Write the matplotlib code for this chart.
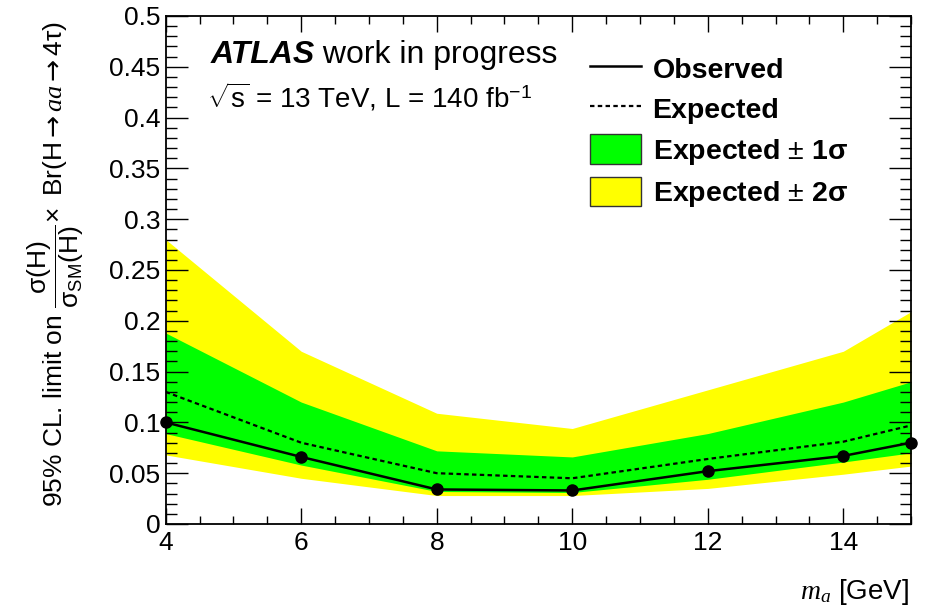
import numpy as np
import matplotlib
matplotlib.use("Agg")
import matplotlib.pyplot as plt
from matplotlib.lines import Line2D
from matplotlib.patches import Patch
from matplotlib.ticker import MultipleLocator, FuncFormatter

plt.rcParams['font.family'] = ['Liberation Sans', 'DejaVu Sans']
plt.rcParams['mathtext.fontset'] = 'custom'
plt.rcParams['mathtext.rm'] = 'Liberation Sans'
plt.rcParams['mathtext.it'] = 'Liberation Serif:italic'
plt.rcParams['mathtext.bf'] = 'Liberation Sans:bold'
plt.rcParams['mathtext.sf'] = 'DejaVu Sans'

# pseudoscalar mass points [GeV]
mass = [4, 6, 8, 10, 12, 14, 15]

# 95% CL upper limits
observed = [0.100, 0.066, 0.034, 0.033, 0.052, 0.067, 0.080]
expected = [0.130, 0.080, 0.050, 0.045, 0.064, 0.081, 0.097]
band1_up = [0.188, 0.120, 0.072, 0.066, 0.089, 0.120, 0.140]
band1_dn = [0.089, 0.058, 0.032, 0.031, 0.044, 0.061, 0.070]
band2_up = [0.280, 0.170, 0.109, 0.094, 0.132, 0.170, 0.209]
band2_dn = [0.068, 0.045, 0.028, 0.028, 0.035, 0.049, 0.057]

green = '#00ff00'
yellow = '#ffff00'

fig = plt.figure(figsize=(9.3, 6.12), dpi=100)
ax = fig.add_axes([0.1782, 0.1438, 0.8014, 0.8301])

ax.fill_between(mass, band2_dn, band2_up, color=yellow, lw=0)
ax.fill_between(mass, band1_dn, band1_up, color=green, lw=0)
ax.plot(mass, expected, color='black', lw=1.6, linestyle=(0, (2, 1.5)))
ax.plot(mass, observed, color='black', lw=1.8, marker='o', markersize=8, clip_on=False, zorder=5)

ax.set_xlim(4, 15)
ax.set_ylim(0, 0.5)

ax.xaxis.set_major_locator(MultipleLocator(2))
ax.xaxis.set_minor_locator(MultipleLocator(0.5))
ax.yaxis.set_major_locator(MultipleLocator(0.05))
ax.yaxis.set_minor_locator(MultipleLocator(0.01))
ax.yaxis.set_major_formatter(FuncFormatter(lambda v, p: '%g' % round(v, 3)))
ax.xaxis.set_major_formatter(FuncFormatter(lambda v, p: '%g' % v))

ax.tick_params(axis='both', which='both', direction='in', top=True, right=True,
               width=1.0, labelsize=19, colors='black')
ax.tick_params(axis='y', which='major', length=16, pad=4)
ax.tick_params(axis='y', which='minor', length=8)
ax.tick_params(axis='x', which='major', length=11.5, pad=5)
ax.tick_params(axis='x', which='minor', length=6)
for sp in ax.spines.values():
    sp.set_linewidth(1.3)

# axis titles
fig.text(0.060, 0.568,
         r'95% CL. limit on $\dfrac{\mathrm{\sigma(H)}}{\mathrm{\sigma_{SM}(H)}}$'
         r'$\!\times$ Br(H$\mathsf{\rightarrow}$$aa$$\mathsf{\rightarrow}$4τ)',
         rotation=90, ha='center', va='center', fontsize=19)
fig.text(0.977, 0.032, r'$m_a$ [GeV]', ha='right', va='center', fontsize=20)

# experiment label
atlas = fig.text(0.226, 0.897, 'ATLAS', fontsize=23, fontweight='bold',
                 fontstyle='italic', ha='left', va='baseline')
ax.annotate(' work in progress', xy=(1, 0), xycoords=atlas, ha='left', va='bottom',
            fontsize=23)
fig.text(0.223, 0.824, r'$\sqrt{\mathrm{s}}$ = 13 TeV, L = 140 fb$^{\mathrm{-1}}$',
         fontsize=20, ha='left', va='baseline')

handles = [
    Line2D([], [], color='black', lw=1.8),
    Line2D([], [], color='black', lw=1.6, linestyle=(0, (2, 1.5))),
    Patch(facecolor=green, edgecolor='#333333', lw=1.0),
    Patch(facecolor=yellow, edgecolor='#333333', lw=1.0),
]
labels = ['Observed', 'Expected', 'Expected $\\pm$ 1σ', 'Expected $\\pm$ 2σ']
leg = ax.legend(handles, labels, loc='upper left', bbox_to_anchor=(0.619, 0.935),
                bbox_transform=fig.transFigure, frameon=False, borderpad=0,
                handlelength=1.8, handleheight=1.2, handletextpad=0.4,
                labelspacing=0.35, prop={'size': 20.5, 'weight': 'bold'})

fig.savefig('out.png', dpi=100)
